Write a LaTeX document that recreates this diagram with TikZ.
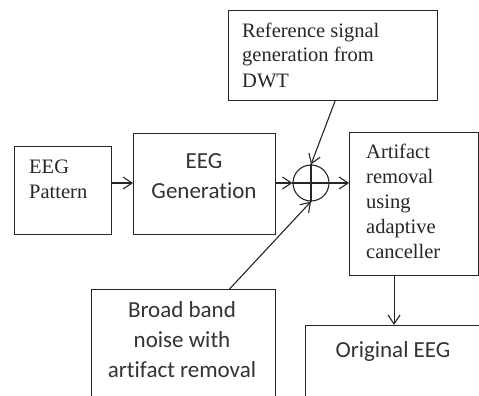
\documentclass[tikz,border=0pt]{standalone}
\usepackage{fontspec}
\setmainfont{Liberation Serif}
\newfontfamily\carlfont[Ligatures=NoCommon]{Carlito}
\usetikzlibrary{arrows.meta}
\begin{document}
\begin{tikzpicture}[x=1pt,y=-1pt,
  box/.style={draw=black!85,line width=1.1pt,inner sep=0pt,anchor=north west},
  sertext/.style={inner sep=0pt,align=left,text=black!85,
    font=\fontsize{20.5}{25}\selectfont},
  santext/.style={inner sep=0pt,align=center,text=black!80,
    font=\carlfont\fontsize{23}{30}\selectfont},
  arr/.style={draw=black!85,line width=1.1pt,-{Straight Barb[length=9pt,width=12pt,line width=1.1pt]}}]
\clip (0,0) rectangle (479,396);
\fill[white] (0,0) rectangle (479,396);
% boxes
\node[box,minimum width=97pt,minimum height=88pt] (pat) at (14,146) {};
\node[box,minimum width=142pt,minimum height=101pt] (gen) at (133,133) {};
\node[box,minimum width=209pt,minimum height=90pt] (ref) at (228,10) {};
\node[box,minimum width=129pt,minimum height=143pt] (art) at (349,132) {};
\node[box,minimum width=184pt,minimum height=130pt] (bro) at (91,289) {};
\node[box,minimum width=200pt,minimum height=100pt] (ori) at (305,325) {};
\node[circle,draw=black!85,line width=1.1pt,minimum size=36pt,inner sep=0pt] (sum) at (311,183) {};
\draw[black!85,line width=1.1pt] (sum.west) -- (sum.east) (sum.north) -- (sum.south);
% texts (base anchor = baseline of the last line)
\node[sertext,anchor=base west] (patT) at (29,198) {EEG\\Pattern};
\node[santext,anchor=base] (genT) at (204,198) {EEG\\Generation};
\node[sertext,anchor=base west] (refT) at (242,87) {Reference signal\\generation from\\DWT};
\node[sertext,anchor=base west] (artT) at (366,258) {Artifact\\removal\\using\\adaptive\\canceller};
\node[santext,anchor=base] (broT) at (182,377) {Broad band\\noise with\\artifact removal};
\node[santext,anchor=base] (oriT) at (393,357) {Original EEG};
% connectors
\draw[arr] (pat.east |- sum.west) -- (gen.west |- sum.west);
\draw[arr] (gen.east |- sum.west) -- (sum.west);
\draw[arr] (sum.east) -- (art.west |- sum.east);
\draw[arr] ([xshift=2pt]ref.south) -- (sum.north);
\draw[arr] ([xshift=46pt]bro.north) -- (sum.south);
\draw[arr] ([xshift=-20pt]art.south) -- ([xshift=-20pt]art.south |- ori.north);
\end{tikzpicture}
\end{document}
